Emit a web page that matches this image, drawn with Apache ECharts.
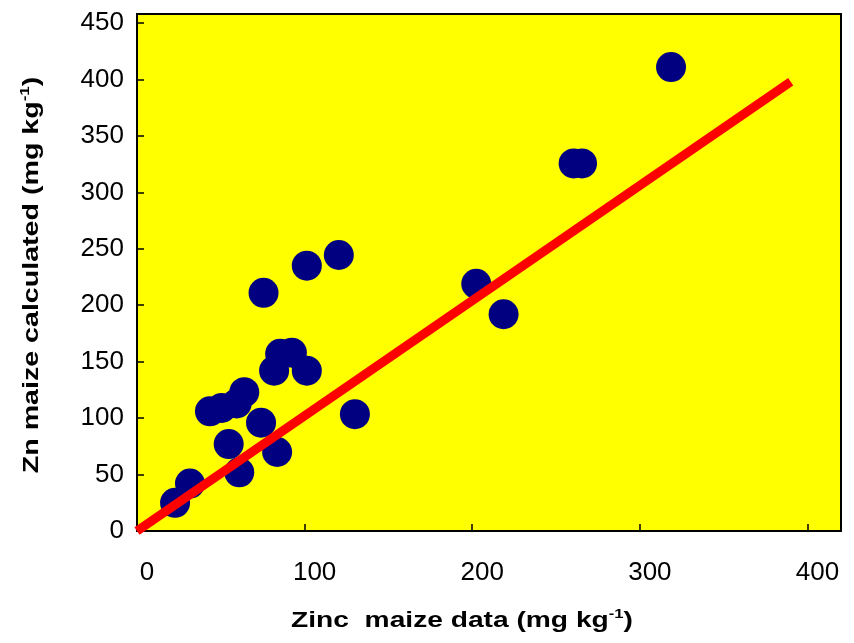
<!DOCTYPE html>
<html>
<head>
<meta charset="utf-8">
<script src="https://cdn.jsdelivr.net/npm/echarts@6/dist/echarts.min.js"></script>
<style>
  html, body { margin: 0; padding: 0; background: #fff; }
  #chart { width: 854px; height: 643px; }
</style>
</head>
<body>
<div id="chart"></div>
<script>
// measured Zn in maize (x) vs calculated (y), mg/kg
const zincData = [22.7, 31.6, 43.5, 50.5, 59.5, 64, 54.7, 61, 74, 75.5, 83.6, 81.8, 85.4, 92.4, 101.3, 101.3, 120.4, 130, 202.4, 218.7, 260.5, 265.5, 318.6];
const znCalc = [25, 42, 106, 109, 113, 123, 77, 52, 96, 211, 70, 142, 157, 158, 142, 235, 244.5, 103.5, 219, 192, 325.6, 325.6, 411];

// red reference line ends
const lineX = [0, 390];
const lineY = [0, 398];

const xTicks = [0, 100, 200, 300, 400];
const yTicks = [0, 50, 100, 150, 200, 250, 300, 350, 400, 450];

const myChart = echarts.init(document.getElementById('chart'));

const FONT = '"Liberation Sans", Arial, sans-serif';

// titles in the original look stretched along the text, so scaleX them a bit
const titleRich = {
  t: { fontFamily: FONT, fontWeight: 'bold', fontSize: 22, fill: '#000', lineHeight: 26 },
  s: { fontFamily: FONT, fontWeight: 'bold', fontSize: 13, fill: '#000', lineHeight: 26, verticalAlign: 'top' },
};

const option = {
  animation: false,
  grid: {
    left: 137,
    right: 13,
    top: 14,
    bottom: 112,
    show: true,
    backgroundColor: '#ffff00',
    borderColor: '#000',
    borderWidth: 2,
  },
  xAxis: {
    type: 'value',
    min: 0,
    max: 420,
    interval: 100,
    axisLine: { lineStyle: { color: '#000', width: 2 } },
    axisTick: { inside: true, length: 7, lineStyle: { color: '#000', width: 1.5 } },
    splitLine: { show: false },
    axisLabel: {
      color: '#000',
      fontFamily: FONT,
      fontSize: 26,
      margin: 29,
      padding: [0, 0, 0, 20],
      formatter: (v) => (xTicks.includes(v) ? String(v) : ''),
    },
  },
  yAxis: {
    type: 'value',
    min: 0,
    max: 458,
    interval: 50,
    axisLine: { lineStyle: { color: '#000', width: 2 } },
    axisTick: { inside: true, length: 7, lineStyle: { color: '#000', width: 1.5 } },
    splitLine: { show: false },
    axisLabel: {
      color: '#000',
      fontFamily: FONT,
      fontSize: 26,
      margin: 13,
      formatter: (v) => (yTicks.includes(v) ? String(v) : ''),
    },
  },
  graphic: [
    {
      type: 'text',
      x: 462,
      y: 621,
      scaleX: 1.28,
      style: {
        text: '{t|Zinc  maize data (mg kg}{s|-1}{t|)}',
        align: 'center',
        verticalAlign: 'middle',
        rich: titleRich,
      },
    },
    {
      type: 'text',
      x: 32,
      y: 275,
      rotation: Math.PI / 2,
      scaleX: 1.3,
      style: {
        text: '{t|Zn maize calculated (mg kg}{s|-1}{t|)}',
        align: 'center',
        verticalAlign: 'middle',
        rich: titleRich,
      },
    },
  ],
  series: [
    {
      type: 'scatter',
      symbol: 'circle',
      symbolSize: 30,
      itemStyle: { color: '#000080', opacity: 1 },
      data: zincData.map((x, i) => [x, znCalc[i]]),
      z: 2,
    },
    {
      type: 'line',
      symbol: 'none',
      lineStyle: { color: '#ff0000', width: 9, cap: 'butt' },
      data: lineX.map((x, i) => [x, lineY[i]]),
      z: 3,
    },
  ],
};

myChart.setOption(option);
</script>
</body>
</html>
